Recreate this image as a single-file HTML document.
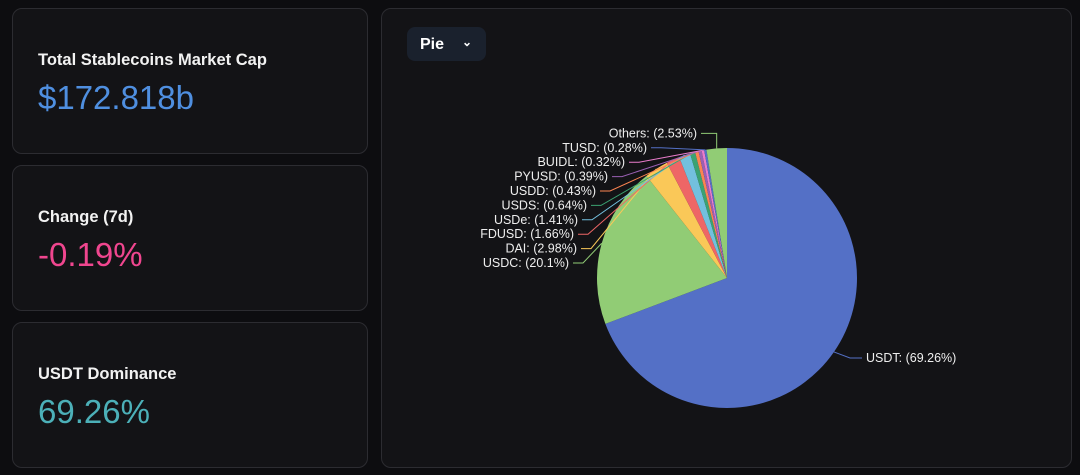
<!DOCTYPE html>
<html><head><meta charset="utf-8"><style>
body{margin:0;width:1080px;height:475px;background:#0d0d10;font-family:"Liberation Sans",sans-serif;overflow:hidden;position:relative}
.card{position:absolute;left:12px;width:356px;background:#131316;border:1px solid #2c2c31;border-radius:10px;box-sizing:border-box}
.t{position:absolute;left:25px;color:#f2f2f2;font-size:16.5px;font-weight:bold}
.v{position:absolute;left:25px;font-size:33px}
#panel{position:absolute;left:381px;top:8px;width:691px;height:460px;background:#131316;border:1px solid #2c2c31;border-radius:10px;box-sizing:border-box}
#sel{position:absolute;left:407px;top:27px;width:79px;height:34px;background:#1a212d;border-radius:8px;color:#fff;font-weight:bold;font-size:16px}
</style></head><body>
<div class="card" style="top:8px;height:146px"><div class="t" style="top:42px">Total Stablecoins Market Cap</div><div class="v" style="top:70px;color:#4f8fe0">$172.818b</div></div>
<div class="card" style="top:165px;height:146px"><div class="t" style="top:42px">Change (7d)</div><div class="v" style="top:70px;color:#f0468f">-0.19%</div></div>
<div class="card" style="top:322px;height:146px"><div class="t" style="top:42px">USDT Dominance</div><div class="v" style="top:70px;color:#4cb0b8">69.26%</div></div>
<div id="panel"></div>
<div id="sel"><span style="position:absolute;left:13px;top:9px">Pie</span><span style="position:absolute;left:55px;top:8px;font-size:12px">&#8964;</span></div>
<svg id="pie" width="1080" height="475" style="position:absolute;left:0;top:0"></svg>
<script>
const names=["USDT","USDC","DAI","FDUSD","USDe","USDS","USDD","PYUSD","BUIDL","TUSD","Others"];
const values=[69.26,20.1,2.98,1.66,1.41,0.64,0.43,0.39,0.32,0.28,2.53];
const labels=["USDT: (69.26%)","USDC: (20.1%)","DAI: (2.98%)","FDUSD: (1.66%)","USDe: (1.41%)","USDS: (0.64%)","USDD: (0.43%)","PYUSD: (0.39%)","BUIDL: (0.32%)","TUSD: (0.28%)","Others: (2.53%)"];
const colors=["#5470c6","#91cc75","#fac858","#ee6666","#73c0de","#3ba272","#fc8452","#9a60b4","#ea7ccc","#5470c6","#91cc75"];
const textEnd=[0,569,577,574,578,587,596,608,625,647,697];
const svg=document.getElementById('pie');const NS="http://www.w3.org/2000/svg";
const cx=727,cy=278,R=130;
const tot=values.reduce((a,b)=>a+b,0);
function pt(a,r){return [cx+r*Math.sin(a),cy-r*Math.cos(a)];}
let a0=0;
values.forEach((v,i)=>{
 const a1=a0+v/tot*2*Math.PI;
 const p0=pt(a0,R),p1=pt(a1,R);
 const s=document.createElementNS(NS,'path');
 s.setAttribute('d',`M${cx},${cy}L${p0[0]},${p0[1]}A${R},${R} 0 ${a1-a0>Math.PI?1:0} 1 ${p1[0]},${p1[1]}Z`);
 s.setAttribute('fill',colors[i]);
 
 
 svg.appendChild(s);
 const m=(a0+a1)/2;const e=pt(m,R);
 let ly,tx,anchor,elbow,end;
 if(i===0){ly=358;tx=866;anchor='start';elbow=[850,ly];end=[862,ly];}
 else{ly=263-(i-1)*14.4;tx=textEnd[i];anchor='end';end=[tx+4,ly];elbow=[tx+14,ly];if(i===10){elbow=[e[0],ly];}}
 const l=document.createElementNS(NS,'polyline');
 l.setAttribute('points',`${e[0]},${e[1]} ${elbow[0]},${elbow[1]} ${end[0]},${end[1]}`);
 l.setAttribute('fill','none');l.setAttribute('stroke',colors[i]);l.setAttribute('stroke-width','1');
 
 
 svg.appendChild(l);
 const t=document.createElementNS(NS,'text');
 t.setAttribute('x',tx);t.setAttribute('y',ly+4);t.setAttribute('text-anchor',anchor);
 t.setAttribute('fill','#eeeeee');t.setAttribute('font-size','12.5');t.setAttribute('font-family','Liberation Sans, sans-serif');
 t.textContent=labels[i];
 
 
 svg.appendChild(t);
 a0=a1;
});
</script>
</body></html>
